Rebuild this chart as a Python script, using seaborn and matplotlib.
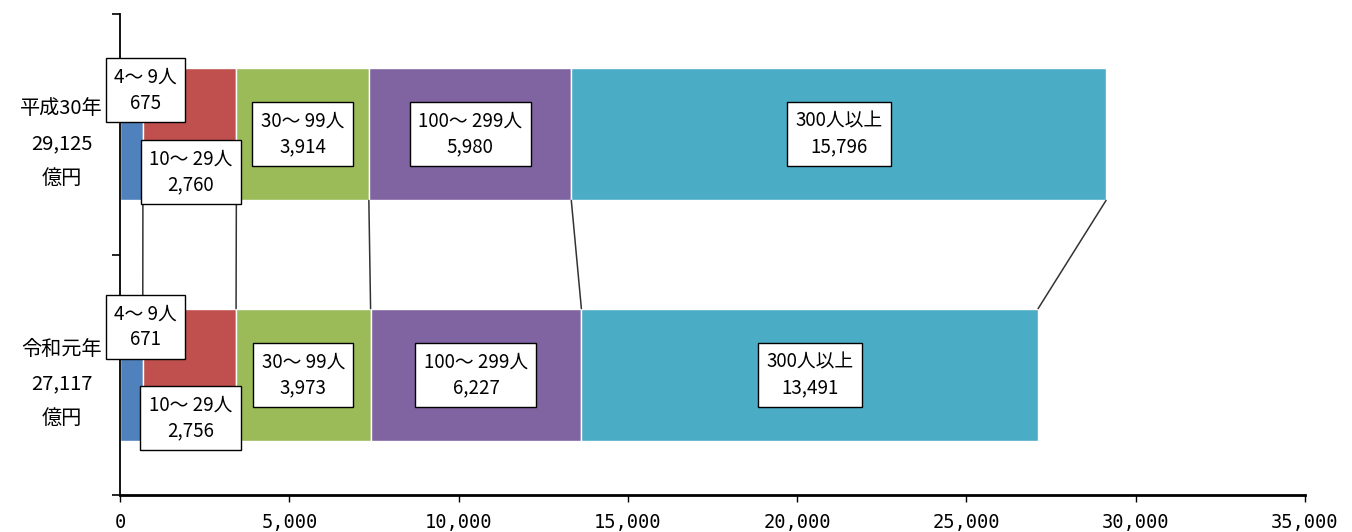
import matplotlib
matplotlib.use("Agg")
import matplotlib.pyplot as plt
import seaborn as sns
import numpy as np

# ---- data ----
years = ["平成30年", "令和元年"]
year_labels = ["平成30年\n29,125\n億円", "令和元年\n27,117\n億円"]
groups = ["4～ 9人", "10～ 29人", "30～ 99人", "100～ 299人", "300人以上"]
values_h30 = [675, 2760, 3914, 5980, 15796]
values_r1 = [671, 2756, 3973, 6227, 13491]
colors = ["#4F81BD", "#C0504D", "#9BBB59", "#8064A2", "#4BACC6"]
xticks = [0, 5000, 10000, 15000, 20000, 25000, 30000, 35000]

sns.set_theme(style="white")
plt.rcParams["font.family"] = ["Noto Sans CJK JP", "DejaVu Sans"]
plt.rcParams["text.color"] = "black"
plt.rcParams["xtick.color"] = "black"
plt.rcParams["ytick.color"] = "black"

fig = plt.figure(figsize=(13.52, 5.32), dpi=100)
ax = fig.add_axes([0.0888, 0.0695, 0.8764, 0.9042])

vals = np.array([values_h30, values_r1], dtype=float)
lefts = np.hstack([np.zeros((2, 1)), np.cumsum(vals, axis=1)[:, :-1]])
bar_h = 0.55

for i, (g, c) in enumerate(zip(groups, colors)):
    sns.barplot(x=vals[:, i], y=years, order=years, color=c, left=lefts[:, i],
                width=bar_h, edgecolor="white", linewidth=1.0, saturation=1,
                orient="h", ax=ax)

# connector lines between segment boundaries of the two bars
ends = np.cumsum(vals, axis=1)
for k in range(ends.shape[1]):
    ax.plot([ends[0, k], ends[1, k]], [0 + bar_h / 2, 1 - bar_h / 2],
            color="#333333", lw=1.1, zorder=1)

# segment labels in boxed callouts (offsets in pixels: right, up)
box = dict(boxstyle="square,pad=0.45", fc="white", ec="black", lw=1.0)
offsets = {
    (0, 0): (14, 44), (0, 1): (1, -38),
    (1, 0): (14, 48), (1, 1): (1, -43),
}
for r in range(2):
    for i, g in enumerate(groups):
        cx = lefts[r, i] + vals[r, i] / 2
        dx, dy = offsets.get((r, i), (0, 0))
        ax.annotate(f"{g}\n{int(vals[r, i]):,}", xy=(cx, r),
                    xytext=(dx / 1.389, dy / 1.389), textcoords="offset points",
                    ha="center", va="center", fontsize=13.5, linespacing=1.3,
                    color="black", bbox=box, zorder=5)

ax.set_xlim(0, 35000)
ax.set_ylim(1.5, -0.5)
ax.set_xticks(xticks)
ax.set_xticklabels([f"{t:,}" for t in xticks], family="DejaVu Sans Mono",
                   fontsize=13.5)
ax.set_yticks([0, 1])
ax.set_yticklabels(year_labels, ha="center", fontsize=14.5, linespacing=1.85)
ax.set_yticks([-0.5, 0.5, 1.5], minor=True)
ax.tick_params(axis="y", which="major", left=True, length=0, pad=42)
ax.tick_params(axis="y", which="minor", left=True, length=6, width=1.2,
               color="black", direction="out")
ax.tick_params(axis="x", which="major", bottom=True, length=5, width=1,
               color="black", direction="out", pad=8)
ax.set_xlabel("")
ax.set_ylabel("")
for s in ["top", "right"]:
    ax.spines[s].set_visible(False)
ax.spines["left"].set_color("black")
ax.spines["left"].set_linewidth(1.3)
ax.spines["bottom"].set_color("black")
ax.spines["bottom"].set_linewidth(2)

fig.savefig("out.png", dpi=100, facecolor="white")
